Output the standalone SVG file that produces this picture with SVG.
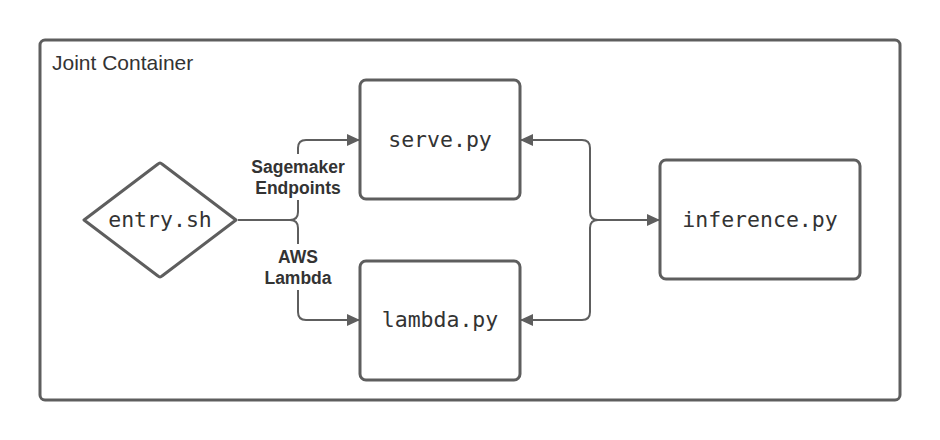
<svg xmlns="http://www.w3.org/2000/svg" width="940" height="440" viewBox="0 0 940 440">
<style>
.box{fill:#fff;stroke:#5e5e5e;stroke-width:3}
.mono{font-family:"DejaVu Sans Mono","Liberation Mono",monospace;font-size:21.5px;fill:#333;text-anchor:middle}
.lbl{font-family:"Liberation Sans",Arial,sans-serif;font-size:17.5px;font-weight:bold;fill:#333;text-anchor:middle}
.line{fill:none;stroke:#5e5e5e;stroke-width:2}
</style>
<defs>
<marker id="arr" markerWidth="14" markerHeight="12" refX="13" refY="6" orient="auto" markerUnits="userSpaceOnUse">
<path d="M0,0 L13,6 L0,12 Z" fill="#5e5e5e"/>
</marker>
</defs>
<rect width="940" height="440" fill="#fff"/>
<g id="container">
<rect x="40" y="40" width="860" height="360" rx="5" class="box"/>
<text x="52" y="70" font-family="'Liberation Sans',Arial,sans-serif" font-size="21" fill="#333">Joint Container</text>
</g>
<g id="connectors">
<path class="line" d="M238,220 H290 Q298,220 298,212 V148 Q298,140 306,140 H360" marker-end="url(#arr)"/>
<path class="line" d="M290,220 Q298,220 298,228 V312 Q298,320 306,320 H360" marker-end="url(#arr)"/>
<path class="line" d="M598,220 Q590,220 590,212 V148 Q590,140 582,140 H520" marker-end="url(#arr)"/>
<path class="line" d="M598,220 Q590,220 590,228 V312 Q590,320 582,320 H520" marker-end="url(#arr)"/>
<path class="line" d="M598,220 H660" marker-end="url(#arr)"/>
<rect x="248" y="154" width="100" height="46" fill="#fff"/>
<text class="lbl" x="298" y="173">Sagemaker</text>
<text class="lbl" x="298" y="194">Endpoints</text>
<rect x="262" y="244" width="72" height="46" fill="#fff"/>
<text class="lbl" x="298" y="263">AWS</text>
<text class="lbl" x="298" y="284">Lambda</text>
</g>
<g id="entry">
<path class="box" stroke-linejoin="round" d="M84,220 L158,164 Q160,162 162,164 L236,220 L162,276 Q160,278 158,276 Z"/>
<text class="mono" x="160" y="227">entry.sh</text>
</g>
<g id="serve">
<rect x="360" y="80" width="160" height="119" rx="6" class="box"/>
<text class="mono" x="440" y="147">serve.py</text>
</g>
<g id="lambda">
<rect x="360" y="261" width="160" height="119" rx="6" class="box"/>
<text class="mono" x="440" y="327">lambda.py</text>
</g>
<g id="inference">
<rect x="660" y="160" width="200" height="119" rx="6" class="box"/>
<text class="mono" x="760" y="227">inference.py</text>
</g>
</svg>
